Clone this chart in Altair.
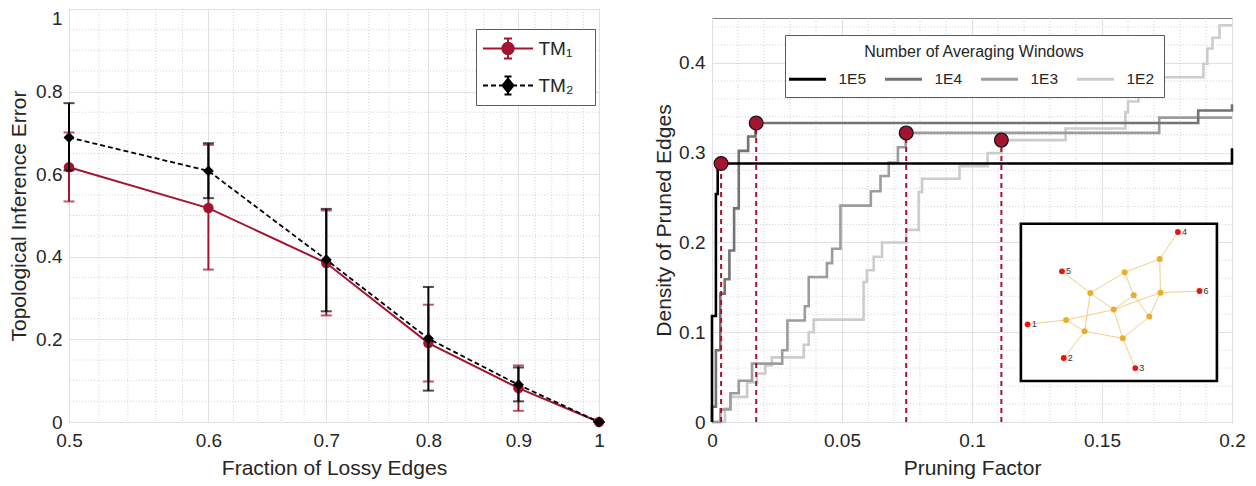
import altair as alt
import pandas as pd

FONT = "Liberation Sans"
TXT = "#262626"
RED = "#A2142F"

# ---------------- left panel data ----------------
frac_lossy = [0.5, 0.6, 0.7, 0.8, 0.9, 1.0]
tm1_mean = [0.617, 0.518, 0.385, 0.191, 0.082, 0.0]
tm1_low = [0.534, 0.369, 0.258, 0.098, 0.027, 0.0]
tm1_high = [0.701, 0.671, 0.512, 0.284, 0.137, 0.0]
tm2_mean = [0.689, 0.608, 0.393, 0.202, 0.090, 0.0]
tm2_low = [0.609, 0.542, 0.268, 0.076, 0.050, 0.0]
tm2_high = [0.772, 0.675, 0.516, 0.327, 0.132, 0.0]
left_series = ["TM₁", "TM₂"]
left_colors = [RED, "#000000"]
left_xticks = [0.5, 0.6, 0.7, 0.8, 0.9, 1.0]
left_yticks = [0.0, 0.2, 0.4, 0.6, 0.8, 1.0]
left_minor_x = [0.52, 0.54, 0.56, 0.58, 0.62, 0.64, 0.66, 0.68, 0.72, 0.74, 0.76, 0.78,
                0.82, 0.84, 0.86, 0.88, 0.92, 0.94, 0.96, 0.98]
left_minor_y = [0.05, 0.1, 0.15, 0.25, 0.3, 0.35, 0.45, 0.5, 0.55, 0.65, 0.7, 0.75,
                0.85, 0.9, 0.95]
# legend glyphs (line + error bar + marker), normalised path units; the final
# move-to only reserves room so the legend frame reaches as far right as the original
left_glyphs = [
    "M-2,0H2M0,-0.8V0.8M-0.32,-0.8H0.32M-0.32,0.8H0.32"
    "M0.46,0A0.46,0.46,0,1,1,-0.46,0A0.46,0.46,0,1,1,0.46,0ZM6.1,0",
    "M-2,0H-1.6M-1.36,0H-0.96M-0.72,0H-0.36M0.36,0H0.72M0.96,0H1.36M1.6,0H2"
    "M0,-0.72V0.72M-0.28,-0.72H0.28M-0.28,0.72H0.28M0,-0.56L0.44,0L0,0.56L-0.44,0ZM6.1,0",
]

# ---------------- right panel data ----------------
windows = ["1E5", "1E4", "1E3", "1E2"]
win_colors = ["#000000", "#737373", "#9c9c9c", "#cccccc"]
pf_1e5 = [0.0, 0.0, 0.0015, 0.0022, 0.2]
dens_1e5 = [0.0, 0.118, 0.254, 0.288, 0.305]
pf_1e4 = [0.0, 0.0, 0.0015, 0.0032, 0.0049, 0.0067, 0.0085, 0.0103, 0.0139, 0.0167, 0.187, 0.2]
dens_1e4 = [0.0, 0.017, 0.08, 0.143, 0.159, 0.191, 0.238, 0.302, 0.318, 0.333, 0.347, 0.354]
pf_1e3 = [0.0, 0.0032, 0.0071, 0.0103, 0.0154, 0.027, 0.029, 0.0357, 0.0372, 0.0442, 0.0462,
          0.0494, 0.0611, 0.0648, 0.068, 0.0715, 0.0745, 0.172, 0.2]
dens_1e3 = [0.0, 0.014, 0.032, 0.046, 0.065, 0.08, 0.113, 0.129, 0.1615, 0.177, 0.193,
            0.241, 0.257, 0.274, 0.289, 0.306, 0.322, 0.339, 0.339]
pf_1e2 = [0.0, 0.005, 0.0071, 0.0135, 0.0173, 0.0205, 0.023, 0.0353, 0.0372, 0.0391, 0.0583,
          0.0596, 0.0622, 0.0654, 0.0747, 0.0795, 0.0808, 0.0952, 0.106, 0.1113, 0.136,
          0.159, 0.16, 0.164, 0.168, 0.189, 0.1905, 0.1925, 0.1952, 0.2]
dens_1e2 = [0.0, 0.015, 0.028, 0.044, 0.054, 0.063, 0.072, 0.086, 0.1, 0.114, 0.156,
            0.169, 0.184, 0.2, 0.214, 0.256, 0.271, 0.285, 0.2995, 0.314, 0.327,
            0.345, 0.357, 0.37, 0.384, 0.399, 0.416, 0.428, 0.442, 0.442]
knee_pf = [0.0035, 0.017, 0.0747, 0.1113]
knee_dens = [0.288, 0.333, 0.322, 0.314]
right_xticks = [0.0, 0.05, 0.1, 0.15, 0.2]
right_yticks = [0.0, 0.1, 0.2, 0.3, 0.4]
right_minor_x = [0.01, 0.02, 0.03, 0.04, 0.06, 0.07, 0.08, 0.09, 0.11, 0.12, 0.13, 0.14,
                 0.16, 0.17, 0.18, 0.19]
right_minor_y = [0.02, 0.04, 0.06, 0.08, 0.12, 0.14, 0.16, 0.18, 0.22, 0.24, 0.26, 0.28,
                 0.32, 0.34, 0.36, 0.38, 0.42, 0.44]
win_glyph = "M-2,0H2"

# inset network (in pruning-factor / density units of the right panel)
inset_box = [0.1188, 0.1942, 0.0457, 0.2209]
node_names = ["1", "2", "3", "4", "5", "6", "a", "b", "c", "d", "e", "f", "g", "h", "i", "j"]
node_x = [0.1214, 0.1353, 0.1628, 0.1792, 0.1346, 0.1875, 0.1362, 0.1433, 0.1455, 0.1545,
          0.1587, 0.1622, 0.1580, 0.1682, 0.1722, 0.1725]
node_y = [0.1088, 0.0713, 0.0601, 0.2116, 0.1678, 0.1459, 0.1136, 0.1010, 0.1437, 0.1252,
          0.1667, 0.1411, 0.0932, 0.1174, 0.1815, 0.1441]
node_kind = ["term"] * 6 + ["inner"] * 10
edge_from = ["1", "a", "a", "b", "b", "b", "c", "c", "c", "d", "d", "d", "e", "e", "f", "g", "g", "i", "i", "j", "j"]
edge_to = ["a", "b", "d", "2", "c", "g", "5", "e", "d", "g", "f", "j", "f", "i", "h", "h", "3", "4", "j", "6", "h"]

# ---------------- tables ----------------
left_df = pd.DataFrame({"frac": frac_lossy, "m1": tm1_mean, "lo1": tm1_low, "hi1": tm1_high,
                        "m2": tm2_mean, "lo2": tm2_low, "hi2": tm2_high})
left_leg_df = pd.DataFrame({"series": left_series, "frac": [1.0, 1.0], "m1": [0.0, 0.0]})
lmx_df = pd.DataFrame({"frac": left_minor_x})
lmy_df = pd.DataFrame({"m1": left_minor_y})

rows = []
for w, xs, ys in [("1E5", pf_1e5, dens_1e5), ("1E4", pf_1e4, dens_1e4),
                  ("1E3", pf_1e3, dens_1e3), ("1E2", pf_1e2, dens_1e2)]:
    for i, (a, b) in enumerate(zip(xs, ys)):
        rows.append({"win": w, "pf": a, "dens": b, "ord": i})
steps_df = pd.DataFrame(rows)
knee_df = pd.DataFrame({"pf": knee_pf, "dens": knee_dens, "base": [0.0] * len(knee_pf)})
rmx_df = pd.DataFrame({"pf": right_minor_x})
rmy_df = pd.DataFrame({"dens": right_minor_y})
box_df = pd.DataFrame({"pf": [inset_box[0]], "pf2": [inset_box[1]],
                       "dens": [inset_box[2]], "dens2": [inset_box[3]]})
nodes_df = pd.DataFrame({"name": node_names, "pf": node_x, "dens": node_y, "kind": node_kind})
pos = {n: (x, y) for n, x, y in zip(node_names, node_x, node_y)}
edges_df = pd.DataFrame({"pf": [pos[a][0] for a in edge_from], "dens": [pos[a][1] for a in edge_from],
                         "pf2": [pos[b][0] for b in edge_to], "dens2": [pos[b][1] for b in edge_to]})

# ---------------- left panel ----------------
xs_l = alt.Scale(type="log", domain=[0.5, 1.0], nice=False)
ys_l = alt.Scale(domain=[0, 1], nice=False)
ax_xl = alt.Axis(values=left_xticks, format="~g", title="Fraction of Lossy Edges",
                 labelPadding=9, titlePadding=7)
ax_yl = alt.Axis(values=left_yticks, format="~g", title="Topological Inference Error",
                 labelPadding=7, titlePadding=6,
                 labelBaseline={"condition": {"test": "datum.value >= 1", "value": "top"},
                                "value": "middle"})
XL = lambda f: alt.X(f, scale=xs_l, axis=ax_xl)
YL = lambda f: alt.Y(f, scale=ys_l, axis=ax_yl)

minor_style = dict(color="#c8c8c8", strokeWidth=0.8, strokeDash=[1, 2])
l_gx = alt.Chart(lmx_df).mark_rule(**minor_style).encode(x=XL("frac:Q"))
l_gy = alt.Chart(lmy_df).mark_rule(**minor_style).encode(y=YL("m1:Q"))

base_l = alt.Chart(left_df)
eb1 = base_l.mark_errorbar(ticks=True, size=11, thickness=2, color=RED).encode(
    x=XL("frac:Q"), y=YL("lo1:Q"), y2="hi1:Q")
ln1 = base_l.mark_line(color=RED, strokeWidth=2).encode(x=XL("frac:Q"), y=YL("m1:Q"))
pt1 = base_l.mark_point(shape="circle", filled=True, size=110, color=RED, opacity=1).encode(
    x=XL("frac:Q"), y=YL("m1:Q"))
eb2 = base_l.mark_errorbar(ticks=True, size=11, thickness=2, color="#000000").encode(
    x=XL("frac:Q"), y=YL("lo2:Q"), y2="hi2:Q")
ln2 = base_l.mark_line(color="#000000", strokeWidth=1.8, strokeDash=[5, 3]).encode(
    x=XL("frac:Q"), y=YL("m2:Q"))
pt2 = base_l.mark_point(shape="diamond", filled=True, size=120, color="#000000", opacity=1).encode(
    x=XL("frac:Q"), y=YL("m2:Q"))

leg_l = alt.Legend(title=None, orient="none", legendX=407, legendY=20, padding=6,
                   rowPadding=9, symbolSize=625, symbolOffset=12.5, labelOffset=17,
                   symbolStrokeWidth=2, labelFontSize=19, labelColor=TXT,
                   fillColor="white", strokeColor="#5a5a5a")
leg_layer = alt.Chart(left_leg_df).transform_filter("false").mark_point(opacity=1, strokeWidth=2).encode(
    x=XL("frac:Q"), y=YL("m1:Q"),
    shape=alt.Shape("series:N", scale=alt.Scale(domain=left_series, range=left_glyphs), legend=leg_l),
    fill=alt.Fill("series:N", scale=alt.Scale(domain=left_series, range=left_colors), legend=leg_l),
    stroke=alt.Stroke("series:N", scale=alt.Scale(domain=left_series, range=left_colors), legend=leg_l),
)

left = alt.layer(l_gx, l_gy, eb1, ln1, pt1, eb2, ln2, pt2, leg_layer).properties(width=530, height=413)

# ---------------- right panel ----------------
xs_r = alt.Scale(domain=[0, 0.2], nice=False, zero=False)
ys_r = alt.Scale(domain=[0, 0.45], nice=False, zero=False)
ax_xr = alt.Axis(values=right_xticks, format="~g", title="Pruning Factor", labelPadding=9, titlePadding=7)
ax_yr = alt.Axis(values=right_yticks, format="~g", title="Density of Pruned Edges",
                 labelPadding=7, titlePadding=4)
XR = lambda f: alt.X(f, scale=xs_r, axis=ax_xr)
YR = lambda f: alt.Y(f, scale=ys_r, axis=ax_yr)

r_gx = alt.Chart(rmx_df).mark_rule(**minor_style).encode(x=XR("pf:Q"))
r_gy = alt.Chart(rmy_df).mark_rule(**minor_style).encode(y=YR("dens:Q"))

leg_r = alt.Legend(title="Number of Averaging Windows", orient="none", legendX=73, legendY=17,
                   direction="horizontal", columns=4, columnPadding=12, padding=9,
                   symbolType=win_glyph, symbolSize=342, symbolOffset=2.5, labelOffset=20,
                   symbolStrokeWidth=3, labelFontSize=15.5, titleFontSize=16, titleLimit=500,
                   titleFontWeight="normal", titleAnchor="middle", titlePadding=8,
                   titleColor=TXT, labelColor=TXT, fillColor="white", strokeColor="#5a5a5a")
color_r = alt.Color("win:N", scale=alt.Scale(domain=windows, range=win_colors), legend=leg_r)

step_layers = []
for w in ["1E2", "1E3", "1E4", "1E5"]:
    step_layers.append(
        alt.Chart(steps_df).transform_filter(alt.datum.win == w)
        .mark_line(interpolate="step-after", strokeWidth=2.6)
        .encode(x=XR("pf:Q"), y=YR("dens:Q"), color=color_r, order="ord:Q")
    )

drops = alt.Chart(knee_df).mark_rule(color=RED, strokeWidth=2, strokeDash=[5, 4]).encode(
    x=XR("pf:Q"), y=YR("base:Q"), y2="dens:Q")
knees = alt.Chart(knee_df).mark_circle(size=190, color=RED, stroke="#111111", strokeWidth=1.2,
                                       opacity=1).encode(x=XR("pf:Q"), y=YR("dens:Q"))

inset = alt.Chart(box_df).mark_rect(fill="white", stroke="#000000", strokeWidth=2.6).encode(
    x=XR("pf:Q"), x2="pf2:Q", y=YR("dens:Q"), y2="dens2:Q")
net_edges = alt.Chart(edges_df).mark_rule(color="#F2CF85", strokeWidth=1).encode(
    x=XR("pf:Q"), x2="pf2:Q", y=YR("dens:Q"), y2="dens2:Q")
inner_nodes = alt.Chart(nodes_df).transform_filter(alt.datum.kind == "inner").mark_circle(
    size=36, opacity=1, color="#E9AE2C").encode(x=XR("pf:Q"), y=YR("dens:Q"))
term_nodes = alt.Chart(nodes_df).transform_filter(alt.datum.kind == "term").mark_circle(
    size=34, opacity=1, color="#F01010").encode(x=XR("pf:Q"), y=YR("dens:Q"))
net_labels = alt.Chart(nodes_df).transform_filter(alt.datum.kind == "term").mark_text(
    align="left", baseline="middle", dx=4, fontSize=9, color="#333333", font=FONT).encode(
    x=XR("pf:Q"), y=YR("dens:Q"), text="name:N")

right = alt.layer(r_gx, r_gy, *step_layers, drops, knees, inset, net_edges, inner_nodes,
                  term_nodes, net_labels).properties(width=520, height=404)

# thin invisible strip that drops the right panel 10px below the left one
spacer = alt.Chart(pd.DataFrame({"v": [0]})).mark_rule(opacity=0).encode(
    x=alt.value(0), x2=alt.value(1), y=alt.value(0.5)
).properties(width=520, height=1, view=alt.ViewBackground(stroke="transparent"))
right_col = alt.vconcat(spacer, right, spacing=6).resolve_legend(color="independent")

chart = alt.hconcat(left, right_col, spacing=48, padding=0).resolve_scale(
    color="independent", shape="independent", fill="independent", stroke="independent"
).resolve_legend(
    color="independent", shape="independent", fill="independent", stroke="independent"
).configure_view(
    stroke="#7f7f7f", strokeWidth=1
).configure_axis(
    labelFont=FONT, titleFont=FONT, labelFontSize=19, titleFontSize=21, labelColor=TXT,
    titleColor=TXT, titleFontWeight="normal", ticks=False, domain=False, gridColor="#e0e0e0",
    gridWidth=1, labelFlush=False, labelOverlap=False
).configure_legend(
    labelFont=FONT, titleFont=FONT
).configure_title(font=FONT)

chart.save("out.html", embed_options={"renderer": "svg", "actions": False})
